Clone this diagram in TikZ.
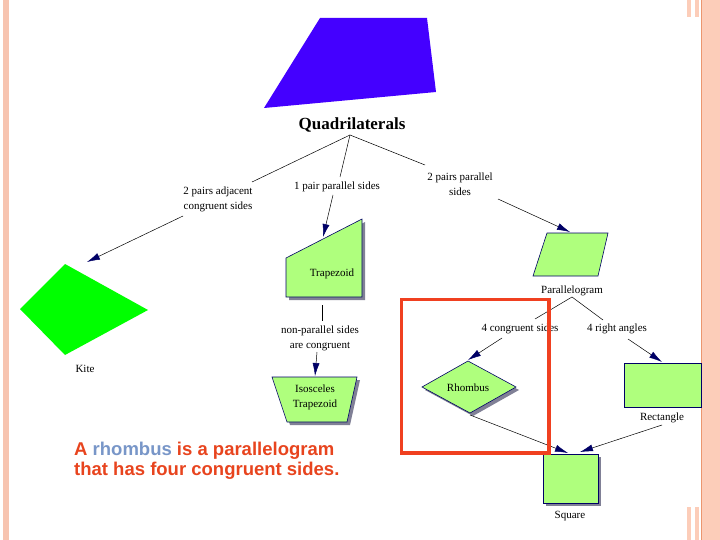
\documentclass[tikz,border=0pt]{standalone}
\usepackage{fontspec}
\setmainfont{Liberation Serif}
\newfontfamily\notefont{Liberation Sans}
\usetikzlibrary{arrows.meta}
\definecolor{quadblue}{RGB}{68,0,255}
\definecolor{kitegreen}{RGB}{0,255,0}
\definecolor{shapegreen}{RGB}{175,255,125}
\definecolor{outlinenavy}{RGB}{0,0,102}
\definecolor{shadowgray}{RGB}{128,128,150}
\definecolor{leftstripe}{RGB}{247,196,176}
\definecolor{rightpanel}{RGB}{252,205,185}
\definecolor{rightline}{RGB}{235,150,110}
\definecolor{notered}{RGB}{232,68,30}
\definecolor{noteblue}{RGB}{120,150,200}
\definecolor{framered}{RGB}{240,64,32}

\begin{document}
\begin{tikzpicture}[x=1pt, y=-1pt,
  lbl/.style={font=\fontsize{11}{15}\selectfont, align=center, inner sep=0pt},
  figfill/.style={fill=shapegreen, draw=outlinenavy, line width=0.6pt},
  figshadow/.style={fill=shadowgray, shift={(3,3)}},
  conn/.style={line width=0.5pt},
  arr/.style={line width=0.5pt, -{Latex[length=13pt,width=7pt,color=outlinenavy]}}]
\useasboundingbox (0,0) rectangle (720,540);
\fill[white] (0,0) rectangle (720,540);
\fill[leftstripe] (3,0) rectangle (9,540);
\fill[rightpanel] (701,0) rectangle (720,540);
\draw[rightline, line width=1pt] (701.5,0) -- (701.5,540);
\fill[rightpanel] (687,0) rectangle (691,17);
\fill[rightpanel] (695,0) rectangle (699,17);
\fill[rightpanel] (687,507) rectangle (691,540);
\fill[rightpanel] (695,507) rectangle (699,540);

\fill[quadblue] (320,18) -- (427,18) -- (436,92) -- (264,108) -- cycle;
\fill[kitegreen] (65,264) -- (148,310) -- (65,355) -- (20,309) -- cycle;
\fill[figshadow] (286,258) -- (362,219) -- (362,297) -- (286,297) -- cycle;
\draw[figfill] (286,258) -- (362,219) -- (362,297) -- (286,297) -- cycle;
\fill[figshadow] (272,377) -- (357,377) -- (347,422) -- (287,422) -- cycle;
\draw[figfill] (272,377) -- (357,377) -- (347,422) -- (287,422) -- cycle;
\draw[figfill] (547,233) -- (608,233) -- (598,276) -- (533,276) -- cycle;
\fill[figshadow] (468,361) -- (516,387) -- (470,413) -- (422,387) -- cycle;
\draw[figfill] (468,361) -- (516,387) -- (470,413) -- (422,387) -- cycle;
\draw[figfill] (624,363) rectangle (701,407);
\fill[figshadow] (543,454) rectangle (598,503);
\draw[figfill] (543,454) rectangle (598,503);

\node[font=\bfseries\fontsize{17}{20}\selectfont, inner sep=0pt] (quad) at (352,125) {Quadrilaterals};
\node[lbl] (adjacent) at (218,199) {2 pairs adjacent\\congruent sides};
\node[lbl] (onepair) at (337,187) {1 pair parallel sides};
\node[lbl] (twopairs) at (460,184) {2 pairs parallel\\sides};
\node[lbl] (kite) at (85,369) {Kite};
\node[lbl] (trapezoid) at (332,274) {Trapezoid};
\node[lbl] (nonparallel) at (320,338) {non-parallel sides\\are congruent};
\node[lbl] (isosceles) at (315,397) {Isosceles\\Trapezoid};
\node[lbl] (parallelogram) at (572,291) {Parallelogram};
\node[lbl] (congruent) at (520,329) {4 congruent sides};
\node[lbl] (rightangles) at (617,329) {4 right angles};
\node[lbl] (rhombus) at (468,388) {Rhombus};
\node[lbl] (rectangle) at (662,418) {Rectangle};
\node[lbl] (square) at (570,516) {Square};

\coordinate (quadBot) at (350,135);
\coordinate (adjEnd) at (252,182);
\coordinate (oneEnd) at (340,177);
\coordinate (twoEnd) at (425,165);
\coordinate (adjStart) at (183,216);
\coordinate (kiteTip) at (87,262);
\coordinate (oneStart) at (333,195);
\coordinate (trapTop) at (323,237);
\coordinate (twoStart) at (498,199);
\coordinate (paraTop) at (570,232);
\coordinate (trapBot) at (322,305);
\coordinate (nonparTop) at (322,321);
\coordinate (nonparBot) at (317,352);
\coordinate (isoTop) at (315,376);
\coordinate (paraBot) at (572,297);
\coordinate (congEnd) at (535,319);
\coordinate (rightEnd) at (603,320);
\coordinate (congStart) at (502,338);
\coordinate (rhombTop) at (468,360);
\coordinate (rightStart) at (628,339);
\coordinate (rectTop) at (662,362);
\coordinate (rhombBot) at (470,415);
\coordinate (sqLeft) at (568,453);
\coordinate (rectBot) at (662,425);
\coordinate (sqRight) at (580,452);

\draw[conn] (adjEnd) -- (quadBot) -- (twoEnd);
\draw[conn] (quadBot) -- (oneEnd);
\draw[arr] (adjStart) -- (kiteTip);
\draw[arr] (oneStart) -- (trapTop);
\draw[arr] (twoStart) -- (paraTop);
\draw[conn] (trapBot) -- (nonparTop);
\draw[arr] (nonparBot) -- (isoTop);
\draw[conn] (congEnd) -- (paraBot) -- (rightEnd);
\draw[arr] (congStart) -- (rhombTop);
\draw[arr] (rightStart) -- (rectTop);
\draw[arr] (rhombBot) -- (sqLeft);
\draw[arr] (rectBot) -- (sqRight);

\draw[framered, line width=3.5pt] (401.5,299.5) rectangle (549,453);

\node[anchor=west, align=left, inner sep=0pt, text=notered,
  font=\notefont\bfseries\fontsize{18.5}{20}\selectfont] (note) at (74,461)
  {A {\color{noteblue}rhombus} is a parallelogram\\that has four congruent sides.};
\end{tikzpicture}
\end{document}
